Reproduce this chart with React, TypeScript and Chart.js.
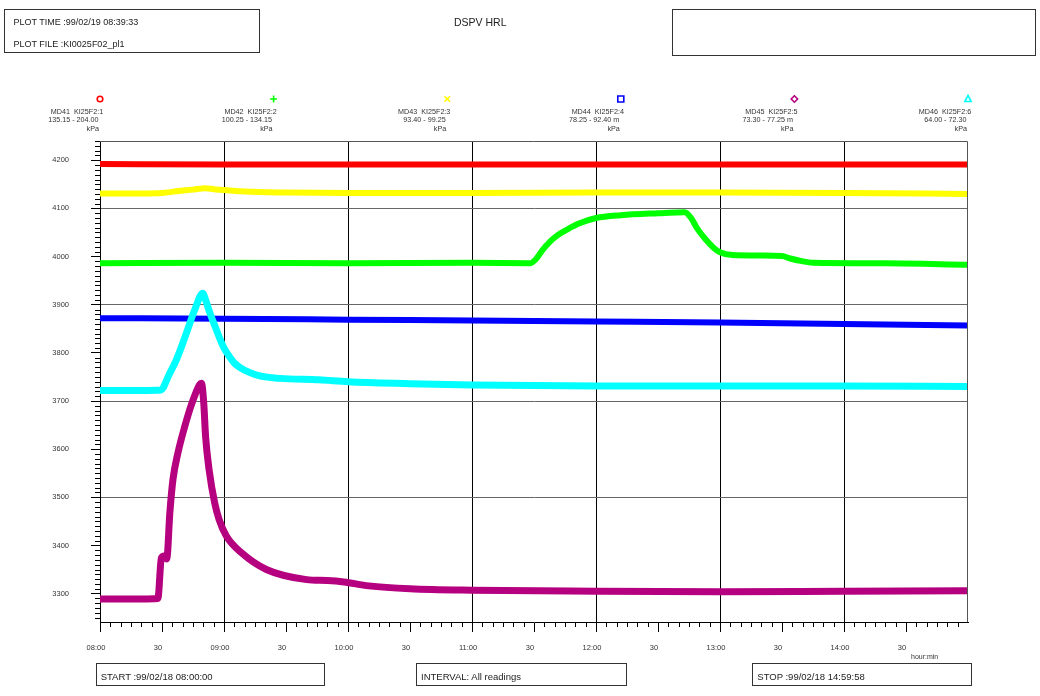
import { useEffect, useRef } from 'react';
import { Chart, registerables } from 'chart.js';

Chart.register(...registerables);

const FONT = '"Liberation Sans", Arial, Helvetica, sans-serif';

// Sensor legend
const sensorTags = ['MD41  KI25F2:1', 'MD42  KI25F2:2', 'MD43  KI25F2:3', 'MD44  KI25F2:4', 'MD45  KI25F2:5', 'MD46  KI25F2:6'];
const sensorRanges = ['135.15 - 204.00', '100.25 - 134.15', '93.40 - 99.25', '78.25 - 92.40 m', '73.30 - 77.25 m', '64.00 - 72.30'];
const sensorUnits = ['kPa', 'kPa', 'kPa', 'kPa', 'kPa', 'kPa'];
const sensorColors = ['#ff0000', '#00ff00', '#ffff00', '#0000ff', '#b5007f', '#00ffff'];
const sensorMarkers = ['circle', 'cross', 'crossRot', 'rect', 'rectRot', 'triangle'];

// Readings: minutes after 08:00 and value
const md41Time = [0, 60, 120, 180, 240, 300, 360, 420];
const md41Value = [4192, 4191, 4191, 4191, 4191, 4191, 4191, 4191];

const md42Time = [0, 60, 120, 180, 208, 211, 214, 218, 221, 226, 232, 240, 252, 270, 283, 286, 289, 293, 297, 300, 306, 320, 330, 334, 339, 345, 380, 420];
const md42Value = [3986, 3987, 3986, 3987, 3986, 3995, 4013, 4032, 4043, 4056, 4069, 4080, 4086, 4090, 4092, 4080, 4058, 4036, 4018, 4009, 4003, 4002, 4001, 3996, 3991, 3987, 3986, 3983];

const md43Time = [0, 20, 30, 38, 45, 51, 55, 60, 70, 90, 120, 180, 240, 300, 360, 420];
const md43Value = [4131, 4131, 4132, 4136, 4139, 4142, 4140, 4138, 4135, 4133, 4132, 4132, 4133, 4133, 4132, 4130];

const md44Time = [0, 60, 120, 180, 240, 300, 360, 420];
const md44Value = [3872, 3871, 3869, 3867, 3865, 3863, 3860, 3857];

const md45Time = [0, 20, 28, 29.7, 31, 32.3, 33.8, 35.3, 37.7, 41, 44.2, 48.2, 49.1, 50.2, 51.1, 52.8, 55.5, 57.6, 61.2, 68.4, 80.5, 100, 110, 118, 130, 150, 180, 240, 300, 360, 420];
const md45Value = [3289, 3289, 3290, 3374, 3378, 3372, 3468, 3537, 3592, 3647, 3692, 3734, 3737, 3696, 3626, 3557, 3488, 3454, 3419, 3385, 3350, 3329, 3327, 3324, 3316, 3310, 3307, 3305, 3304, 3305, 3306];

const md46Time = [0, 20, 29.7, 30.5, 33, 37, 41.8, 45.8, 49.8, 51, 53, 56.3, 60, 63, 65, 67.6, 72, 77.3, 87, 106, 120, 150, 180, 240, 300, 360, 420];
const md46Value = [3722, 3722, 3723, 3727, 3751, 3786, 3841, 3889, 3924, 3911, 3885, 3848, 3810, 3790, 3779, 3770, 3760, 3752, 3747, 3744, 3740, 3736, 3733, 3731, 3731, 3731, 3730];

const seriesTimes = [md41Time, md42Time, md43Time, md44Time, md45Time, md46Time];
const seriesValues = [md41Value, md42Value, md43Value, md44Value, md45Value, md46Value];
const lineWidths = [6, 6, 6, 6, 7, 7];
const drawOrder = [3, 4, 5, 2, 1, 0];

// Axes
const timeTicks = [0, 30, 60, 90, 120, 150, 180, 210, 240, 270, 300, 330, 360, 390];
const timeLabels = ['08:00', '30', '09:00', '30', '10:00', '30', '11:00', '30', '12:00', '30', '13:00', '30', '14:00', '30'];
const valueTicks = [3300, 3400, 3500, 3600, 3700, 3800, 3900, 4000, 4100, 4200];
const valueGridLines = [3500, 3700, 3900, 4100];
const TIME_MIN = 0;
const TIME_MAX = 420;
const VALUE_MIN = 3241;
const VALUE_MAX = 4240;

function drawMarker(ctx: CanvasRenderingContext2D, style: string, x: number, y: number, color: string) {
  ctx.save();
  ctx.strokeStyle = color;
  ctx.lineWidth = 1.6;
  ctx.beginPath();
  switch (style) {
    case 'circle':
      ctx.arc(x, y, 2.8, 0, Math.PI * 2);
      break;
    case 'cross':
      ctx.moveTo(x - 3.5, y); ctx.lineTo(x + 3.5, y);
      ctx.moveTo(x, y - 3.5); ctx.lineTo(x, y + 3.5);
      break;
    case 'crossRot':
      ctx.moveTo(x - 2.8, y - 2.8); ctx.lineTo(x + 2.8, y + 2.8);
      ctx.moveTo(x - 2.8, y + 2.8); ctx.lineTo(x + 2.8, y - 2.8);
      break;
    case 'rect':
      ctx.rect(x - 3, y - 3, 6, 6);
      break;
    case 'rectRot':
      ctx.moveTo(x, y - 3.2); ctx.lineTo(x + 3.2, y); ctx.lineTo(x, y + 3.2); ctx.lineTo(x - 3.2, y); ctx.closePath();
      break;
    case 'triangle':
      ctx.moveTo(x, y - 3.5); ctx.lineTo(x + 3.2, y + 2.5); ctx.lineTo(x - 3.2, y + 2.5); ctx.closePath();
      break;
  }
  ctx.stroke();
  ctx.restore();
}

const plotDecor = {
  id: 'plotDecor',
  afterDraw(chart: any) {
    const { ctx, chartArea: a, scales } = chart;
    const xs = scales.x;
    const ys = scales.y;
    ctx.save();

    // minor tick marks
    ctx.strokeStyle = '#000';
    ctx.lineWidth = 1;
    ctx.beginPath();
    for (let v = 3250; v <= VALUE_MAX; v += 10) {
      if (v % 100 === 0) continue;
      const py = Math.round(ys.getPixelForValue(v)) + 0.5;
      ctx.moveTo(a.left - 5, py);
      ctx.lineTo(a.left, py);
    }
    for (let m = 5; m < TIME_MAX; m += 5) {
      if (m % 30 === 0) continue;
      const px = Math.round(xs.getPixelForValue(m)) + 0.5;
      ctx.moveTo(px, a.bottom);
      ctx.lineTo(px, a.bottom + 5);
    }
    ctx.stroke();

    // frame top and right
    ctx.strokeStyle = '#555';
    ctx.beginPath();
    const top = Math.round(a.top) + 0.5;
    const right = Math.round(a.right) - 0.5;
    ctx.moveTo(a.left, top);
    ctx.lineTo(right, top);
    ctx.lineTo(right, a.bottom);
    ctx.stroke();

    // legend row
    ctx.fillStyle = '#333';
    ctx.font = `7.2px ${FONT}`;
    ctx.textBaseline = 'middle';
    for (let i = 0; i < sensorTags.length; i++) {
      const mx = xs.getPixelForValue(TIME_MIN + (i * (TIME_MAX - TIME_MIN)) / (sensorTags.length - 1));
      drawMarker(ctx, sensorMarkers[i], mx, 99, sensorColors[i]);
      ctx.textAlign = 'center';
      ctx.fillText(sensorTags[i], mx - 23, 112);
      ctx.textAlign = 'right';
      ctx.fillText(sensorRanges[i], mx - 1.5, 120.5);
      ctx.fillText(sensorUnits[i], mx - 1, 129);
    }

    // axis unit
    ctx.textAlign = 'left';
    ctx.font = `7px ${FONT}`;
    ctx.fillText('hour:min', 911, 657);
    ctx.restore();
  },
};

const textBase: any = {
  position: 'absolute',
  fontFamily: FONT,
  color: '#222',
  lineHeight: 1,
  whiteSpace: 'pre',
};

function Box({ left, top, width, height }: { left: number; top: number; width: number; height: number }) {
  return (
    <div
      style={{
        position: 'absolute',
        left,
        top,
        width,
        height,
        border: '1.5px solid #333',
        boxSizing: 'border-box',
      }}
    />
  );
}

function Label({ left, top, size, text }: { left: number; top: number; size: number; text: string }) {
  return <div style={{ ...textBase, left, top, fontSize: size }}>{text}</div>;
}

export default function App() {
  const canvasRef = useRef<HTMLCanvasElement>(null);

  useEffect(() => {
    const canvas = canvasRef.current;
    if (!canvas) return;
    const chart = new Chart(canvas, {
      type: 'line',
      data: {
        datasets: seriesTimes.map((times, i) => ({
          label: sensorTags[i],
          data: times.map((t, k) => ({ x: t, y: seriesValues[i][k] })),
          borderColor: sensorColors[i],
          backgroundColor: sensorColors[i],
          borderWidth: lineWidths[i],
          pointRadius: 0,
          cubicInterpolationMode: 'monotone',
          borderJoinStyle: 'round',
          order: drawOrder[i],
          fill: false,
        })),
      },
      options: {
        responsive: false,
        animation: false,
        events: [],
        layout: { padding: { top: 141, right: 72, left: 0, bottom: 0 } },
        plugins: { legend: { display: false }, tooltip: { enabled: false } },
        scales: {
          x: {
            type: 'linear',
            min: TIME_MIN,
            max: TIME_MAX,
            afterFit: (s: any) => {
              s.height = 74;
            },
            afterBuildTicks: (s: any) => {
              s.ticks = timeTicks.map((v) => ({ value: v }));
            },
            ticks: {
              autoSkip: false,
              maxRotation: 0,
              callback: (_v: any, idx: number) => timeLabels[idx] ?? '',
              font: { family: FONT, size: 7.5 },
              color: '#333',
              padding: 11,
              labelOffset: -4,
            },
            grid: {
              color: (c: any) =>
                c.tick && c.tick.value % 60 === 0 && c.tick.value > TIME_MIN && c.tick.value < TIME_MAX
                  ? '#000'
                  : 'rgba(0,0,0,0)',
              tickColor: '#000',
              tickLength: 10,
              lineWidth: 1,
            },
            border: { display: true, color: '#000', width: 1 },
          },
          y: {
            type: 'linear',
            min: VALUE_MIN,
            max: VALUE_MAX,
            afterFit: (s: any) => {
              s.width = 100;
            },
            afterBuildTicks: (s: any) => {
              s.ticks = valueTicks.map((v) => ({ value: v }));
            },
            ticks: {
              autoSkip: false,
              callback: (v: any) => String(v),
              font: { family: FONT, size: 7.5 },
              color: '#333',
              padding: 22,
            },
            grid: {
              color: (c: any) => (c.tick && valueGridLines.includes(c.tick.value) ? '#666' : 'rgba(0,0,0,0)'),
              tickColor: '#000',
              tickLength: 9,
              lineWidth: 1,
            },
            border: { display: true, color: '#000', width: 1 },
          },
        },
      } as any,
      plugins: [plotDecor],
    });
    return () => chart.destroy();
  }, []);

  return (
    <div style={{ position: 'fixed', left: 0, top: 0, width: 1040, height: 696, background: '#fff', overflow: 'hidden' }}>
      <canvas ref={canvasRef} width={1040} height={696} style={{ position: 'absolute', left: 0, top: 0, display: 'block' }} />
      <Box left={4} top={9} width={256} height={44} />
      <Label left={13.5} top={17.6} size={9} text="PLOT TIME :99/02/19 08:39:33" />
      <Label left={13.5} top={40.2} size={9} text="PLOT FILE :KI0025F02_pl1" />
      <Label left={454} top={16.9} size={10.5} text="DSPV HRL" />
      <Box left={672} top={9} width={364} height={47} />
      <Box left={96} top={663} width={229} height={23} />
      <Label left={100.7} top={672} size={9.5} text="START :99/02/18 08:00:00" />
      <Box left={416} top={663} width={211} height={23} />
      <Label left={421} top={672} size={9.5} text="INTERVAL: All readings" />
      <Box left={752} top={663} width={220} height={23} />
      <Label left={757.3} top={672} size={9.5} text="STOP :99/02/18 14:59:58" />
    </div>
  );
}
